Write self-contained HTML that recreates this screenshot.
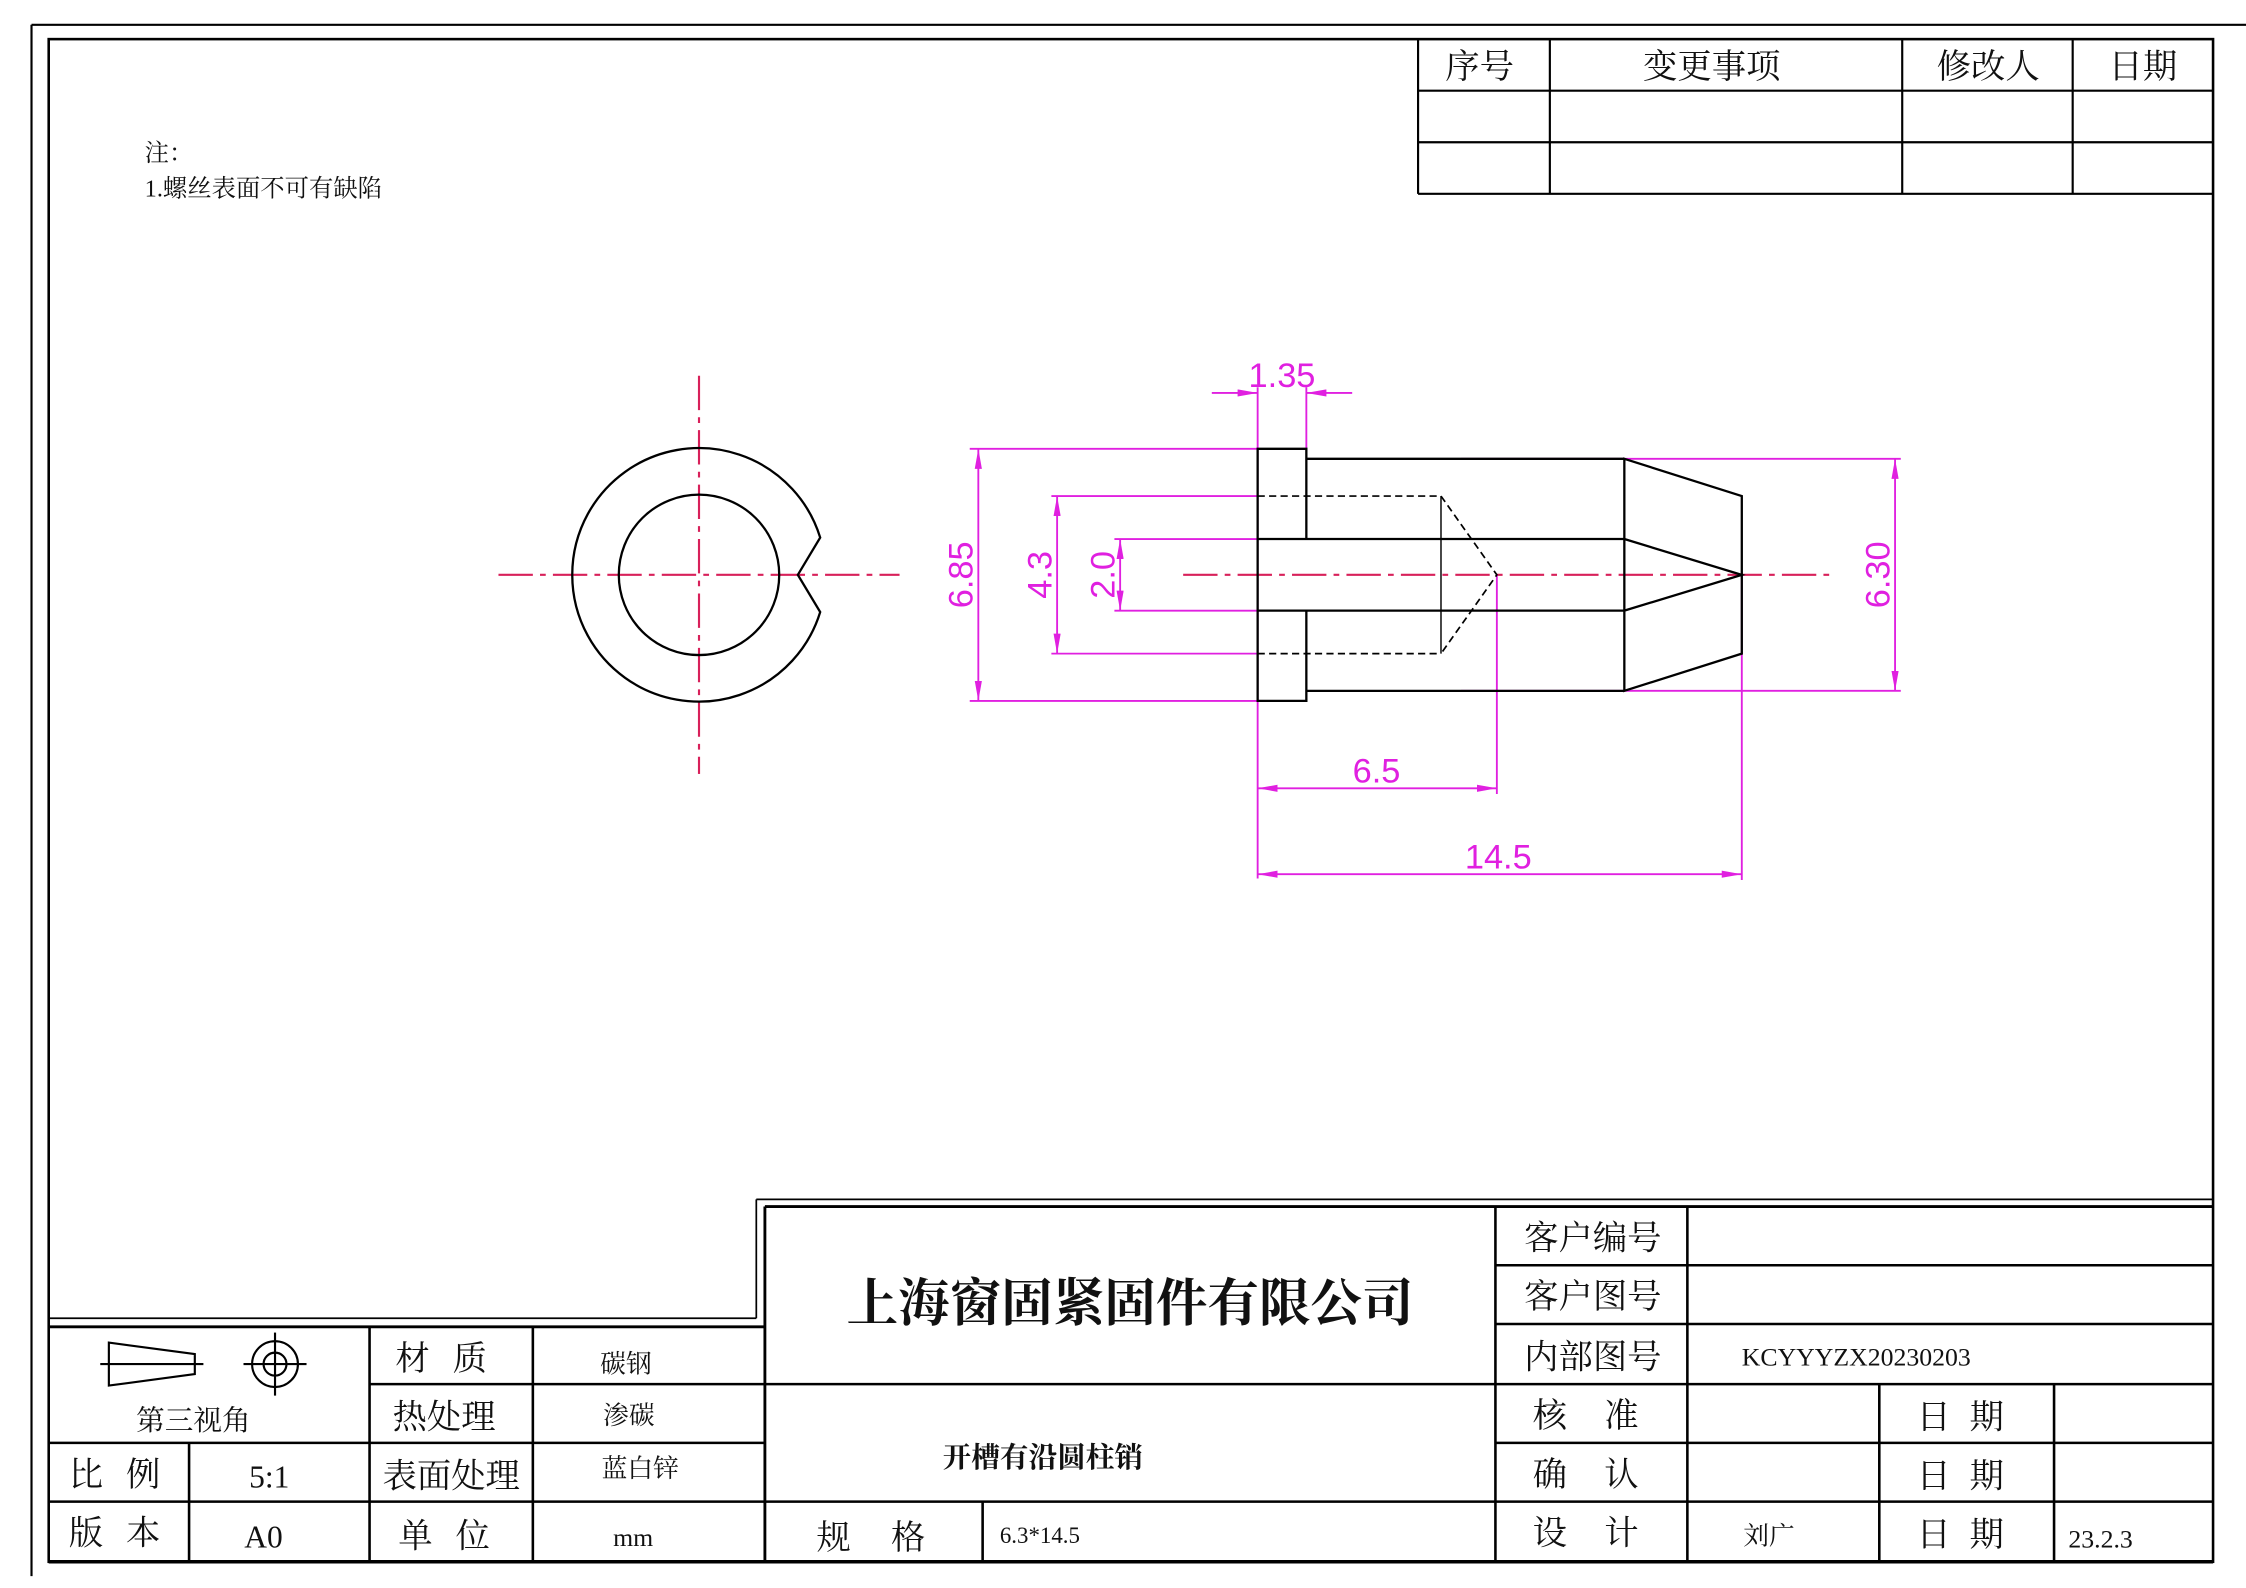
<!DOCTYPE html>
<html><head><meta charset="utf-8"><style>
html,body{margin:0;padding:0;background:#fff;}
svg{display:block;}
text{font-family:"Liberation Serif","Noto Serif CJK SC","Noto Sans CJK SC",serif;fill:#111;}
.m{fill:#e020e0;font-family:"Liberation Sans",sans-serif;}
</style></head><body>
<svg width="2246" height="1588" viewBox="0 0 1568 1108" xmlns="http://www.w3.org/2000/svg">
<defs>
<marker id="a" viewBox="0 0 10 10" refX="10" refY="5" markerWidth="14" markerHeight="5" orient="auto-start-reverse" markerUnits="userSpaceOnUse" preserveAspectRatio="none"><path d="M0,0 L10,5 L0,10 Z" fill="#e020e0"/></marker>
</defs>
<rect width="1568" height="1108" fill="#fff"/>
<g stroke="#000" fill="none">
<line x1="22" y1="17" x2="1568" y2="17" stroke-width="1.5"/>
<line x1="22" y1="17" x2="22" y2="1100" stroke-width="1.5"/>
<rect x="34" y="27" width="1511" height="1063" stroke-width="1.8"/>
<g stroke-width="1.5">
<line x1="990" y1="27" x2="990" y2="135"/><line x1="1082" y1="27" x2="1082" y2="135"/>
<line x1="1328" y1="27" x2="1328" y2="135"/><line x1="1447" y1="27" x2="1447" y2="135"/>
<line x1="990" y1="63" x2="1545" y2="63"/><line x1="990" y1="99" x2="1545" y2="99"/><line x1="990" y1="135" x2="1545" y2="135"/>
</g>
<line x1="528" y1="837" x2="1545" y2="837" stroke-width="1.2"/>
<line x1="528" y1="837" x2="528" y2="920" stroke-width="1.2"/>
<line x1="34" y1="920" x2="528" y2="920" stroke-width="1.2"/>
<line x1="534" y1="842" x2="1545" y2="842" stroke-width="2"/>
<line x1="534" y1="842" x2="534" y2="1090" stroke-width="2"/>
<line x1="34" y1="926" x2="534" y2="926" stroke-width="2"/>
<g stroke-width="1.8">
<line x1="34" y1="1090" x2="1545" y2="1090" stroke-width="2.5"/>
<line x1="258" y1="926" x2="258" y2="1090"/><line x1="372" y1="926" x2="372" y2="1090"/>
<line x1="132" y1="1007" x2="132" y2="1090"/>
<line x1="258" y1="966" x2="534" y2="966"/>
<line x1="34" y1="1007" x2="534" y2="1007"/>
<line x1="34" y1="1048" x2="1545" y2="1048"/>
<line x1="534" y1="966" x2="1545" y2="966"/>
<line x1="686" y1="1048" x2="686" y2="1090"/>
<line x1="1044" y1="842" x2="1044" y2="1090"/>
<line x1="1178" y1="842" x2="1178" y2="1090"/>
<line x1="1044" y1="883" x2="1545" y2="883"/>
<line x1="1044" y1="924" x2="1545" y2="924"/>
<line x1="1044" y1="1007" x2="1545" y2="1007"/>
<line x1="1312" y1="966" x2="1312" y2="1090"/><line x1="1434" y1="966" x2="1434" y2="1090"/>
</g>
<g stroke-width="1.5">
<path d="M76,937 L76,967 L136,959 L136,945 Z"/>
<line x1="70" y1="952" x2="142" y2="952"/>
<circle cx="192" cy="952" r="16"/><circle cx="192" cy="952" r="8"/>
<line x1="192" y1="930" x2="192" y2="974"/><line x1="170" y1="952" x2="214" y2="952"/>
</g>
</g>
<g font-size="24">
<text x="1033" y="54" text-anchor="middle">序号</text>
<text x="1195" y="54" text-anchor="middle">变更事项</text>
<text x="1388" y="54" text-anchor="middle">修改人</text>
<text x="1496" y="54" text-anchor="middle">日期</text>
</g>
<text x="101" y="112" font-size="17">注：</text>
<text x="101" y="137" font-size="17">1.螺丝表面不可有缺陷</text>
<text x="789" y="922" font-size="36" font-weight="bold" text-anchor="middle" font-family="Liberation Sans,Noto Sans CJK SC,sans-serif">上海窗固紧固件有限公司</text>
<text x="728" y="1024" font-size="20" font-weight="bold" text-anchor="middle" font-family="Liberation Sans,Noto Sans CJK SC,sans-serif">开槽有沿圆柱销</text>
<g font-size="24">
<text x="1112" y="872" text-anchor="middle">客户编号</text>
<text x="1112" y="913" text-anchor="middle">客户图号</text>
<text x="1112" y="955" text-anchor="middle">内部图号</text>
<text x="1070" y="996">核</text><text x="1120" y="996">准</text>
<text x="1070" y="1037">确</text><text x="1120" y="1037">认</text>
<text x="1070" y="1078">设</text><text x="1120" y="1078">计</text>
<text x="1338" y="997">日</text><text x="1375" y="997">期</text>
<text x="1338" y="1038">日</text><text x="1375" y="1038">期</text>
<text x="1338" y="1079">日</text><text x="1375" y="1079">期</text>
<text x="276" y="956">材</text><text x="316" y="956">质</text>
<text x="310" y="997" text-anchor="middle">热处理</text>
<text x="315" y="1038" text-anchor="middle">表面处理</text>
<text x="278" y="1080">单</text><text x="318" y="1080">位</text>
<text x="48" y="1037">比</text><text x="88" y="1037">例</text>
<text x="48" y="1078">版</text><text x="88" y="1078">本</text>
<text x="570" y="1081">规</text><text x="622" y="1081">格</text>
</g>
<g font-size="18">
<text x="437" y="958" text-anchor="middle">碳钢</text>
<text x="439" y="994" text-anchor="middle">渗碳</text>
<text x="447" y="1031" text-anchor="middle">蓝白锌</text>
<text x="442" y="1079" text-anchor="middle">mm</text>
<text x="1216" y="953">KCYYYZX20230203</text>
<text x="1235" y="1078" text-anchor="middle">刘广</text>
<text x="1444" y="1080">23.2.3</text>
<text x="698" y="1077" font-size="16">6.3*14.5</text>
</g>
<text x="135" y="998" font-size="20" text-anchor="middle">第三视角</text>
<text x="188" y="1038" font-size="22" text-anchor="middle">5:1</text>
<text x="184" y="1080" font-size="22" text-anchor="middle">A0</text>
<g stroke="#d8205a" stroke-width="1.5" stroke-dasharray="24,5,4,5" fill="none">
<line x1="348" y1="401" x2="628" y2="401"/>
<line x1="488" y1="262" x2="488" y2="540"/>
<line x1="826" y1="401" x2="1280" y2="401"/>
</g>
<g stroke="#000" stroke-width="1.6" fill="none">
<path d="M572.6,375 A88.5,88.5 0 1 0 572.6,427 L557,401 Z"/>
<circle cx="488" cy="401" r="56"/>
</g>
<g stroke="#e020e0" stroke-width="1.3" fill="none">
<line x1="878" y1="270" x2="878" y2="613"/>
<line x1="912" y1="270" x2="912" y2="313"/>
<line x1="846" y1="274" x2="878" y2="274" marker-end="url(#a)"/>
<line x1="944" y1="274" x2="912" y2="274" marker-end="url(#a)"/>
<line x1="677" y1="313" x2="878" y2="313"/><line x1="677" y1="489" x2="878" y2="489"/>
<line x1="683" y1="313" x2="683" y2="489" marker-start="url(#a)" marker-end="url(#a)"/>
<line x1="734" y1="346" x2="878" y2="346"/><line x1="734" y1="456" x2="878" y2="456"/>
<line x1="738" y1="346" x2="738" y2="456" marker-start="url(#a)" marker-end="url(#a)"/>
<line x1="778" y1="376" x2="878" y2="376"/><line x1="778" y1="426" x2="878" y2="426"/>
<line x1="782" y1="376" x2="782" y2="426" marker-start="url(#a)" marker-end="url(#a)"/>
<line x1="1020" y1="320" x2="1327" y2="320"/><line x1="1020" y1="482" x2="1327" y2="482"/>
<line x1="1323" y1="320" x2="1323" y2="482" marker-start="url(#a)" marker-end="url(#a)"/>
<line x1="1045" y1="401" x2="1045" y2="554"/>
<line x1="878" y1="550" x2="1045" y2="550" marker-start="url(#a)" marker-end="url(#a)"/>
<line x1="1216" y1="401" x2="1216" y2="614"/>
<line x1="878" y1="610" x2="1216" y2="610" marker-start="url(#a)" marker-end="url(#a)"/>
</g>
<g font-size="24">
<text class="m" x="895" y="270" text-anchor="middle">1.35</text>
<text class="m" x="961" y="546" text-anchor="middle">6.5</text>
<text class="m" x="1046" y="606" text-anchor="middle">14.5</text>
<text class="m" transform="translate(679,401) rotate(-90)" text-anchor="middle">6.85</text>
<text class="m" transform="translate(734,401) rotate(-90)" text-anchor="middle">4.3</text>
<text class="m" transform="translate(778,401) rotate(-90)" text-anchor="middle">2.0</text>
<text class="m" transform="translate(1319,401) rotate(-90)" text-anchor="middle">6.30</text>
</g>
<g stroke="#000" stroke-width="1.6" fill="none">
<path d="M912,376 L912,313 L878,313 L878,489 L912,489 L912,426"/>
<line x1="912" y1="320" x2="1134" y2="320"/><line x1="912" y1="482" x2="1134" y2="482"/>
<path d="M1134,320 L1216,346 L1216,456 L1134,482 Z"/>
<line x1="878" y1="376" x2="1134" y2="376"/><line x1="878" y1="426" x2="1134" y2="426"/>
<path d="M1134,376 L1216,401 L1134,426"/>
<line x1="1006" y1="346" x2="1006" y2="456" stroke-width="1"/>
<g stroke-dasharray="5,3" stroke-width="1.2">
<line x1="878" y1="346" x2="1006" y2="346"/><line x1="878" y1="456" x2="1006" y2="456"/>
<path d="M1006,346 L1045,401 L1006,456"/>
</g>
</g>
</svg>
</body></html>
